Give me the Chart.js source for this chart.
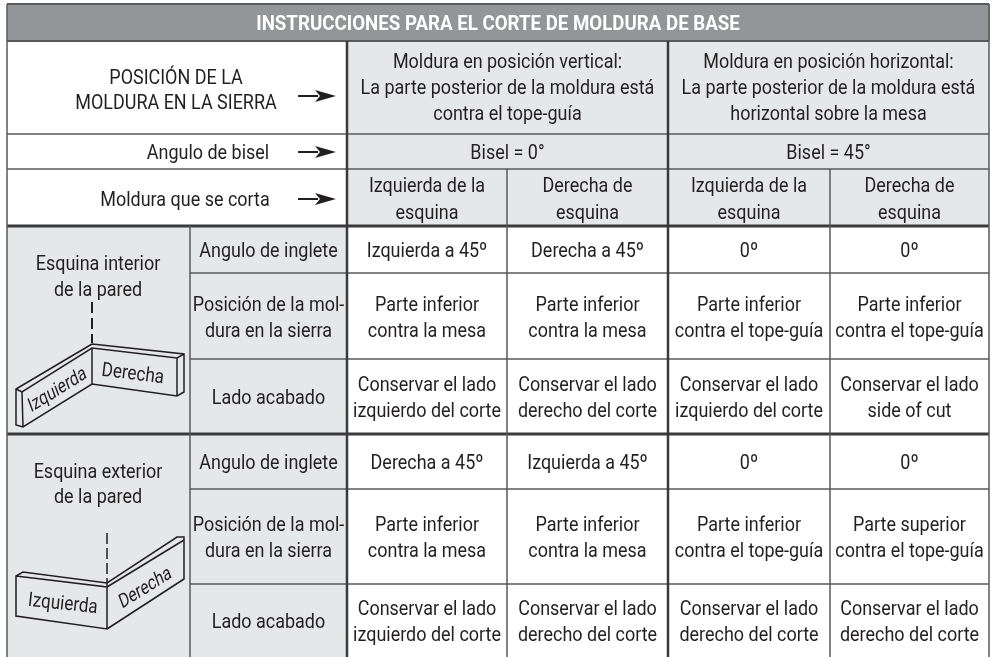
<!DOCTYPE html>
<html>
<head>
<meta charset="utf-8">
<style>
  html, body { margin: 0; padding: 0; background: #fff; }
  canvas { display: block; }
</style>
<script src="https://cdn.jsdelivr.net/npm/chart.js@4/dist/chart.umd.min.js"></script>
</head>
<body>
<canvas id="myChart" width="991" height="657"></canvas>
<script>
const tableTitle = "INSTRUCCIONES PARA EL CORTE DE MOLDURA DE BASE";
const positionLabel = ["POSICIÓN DE LA", "MOLDURA EN LA SIERRA"];
const bevelLabel = "Angulo de bisel";
const cutLabel = "Moldura que se corta";
const positionHeads = [
  ["Moldura en posición vertical:", "La parte posterior de la moldura está", "contra el tope-guía"],
  ["Moldura en posición horizontal:", "La parte posterior de la moldura está", "horizontal sobre la mesa"],
];
const bevelHeads = ["Bisel = 0°", "Bisel = 45°"];
const cutHeads = [
  ["Izquierda de la", "esquina"],
  ["Derecha de", "esquina"],
  ["Izquierda de la", "esquina"],
  ["Derecha de", "esquina"],
];
const cornerLabels = [
  ["Esquina interior", "de la pared"],
  ["Esquina exterior", "de la pared"],
];
const rowLabels = [
  ["Angulo de inglete"],
  ["Posición de la mol-", "dura en la sierra"],
  ["Lado acabado"],
];
const insideValues = [
  [["Izquierda a 45º"], ["Derecha a 45º"], ["0º"], ["0º"]],
  [["Parte inferior", "contra la mesa"], ["Parte inferior", "contra la mesa"], ["Parte inferior", "contra el tope-guía"], ["Parte inferior", "contra el tope-guía"]],
  [["Conservar el lado", "izquierdo del corte"], ["Conservar el lado", "derecho del corte"], ["Conservar el lado", "izquierdo del corte"], ["Conservar el lado", "side of cut"]],
];
const outsideValues = [
  [["Derecha a 45º"], ["Izquierda a 45º"], ["0º"], ["0º"]],
  [["Parte inferior", "contra la mesa"], ["Parte inferior", "contra la mesa"], ["Parte inferior", "contra el tope-guía"], ["Parte superior", "contra el tope-guía"]],
  [["Conservar el lado", "izquierdo del corte"], ["Conservar el lado", "derecho del corte"], ["Conservar el lado", "derecho del corte"], ["Conservar el lado", "derecho del corte"]],
];

// grid of the table, in axis units
const colEdges = [7, 190, 347, 507, 668, 830, 989];
const rowEdges = [4, 41, 134, 169, 226, 273, 359, 434, 489, 584, 657];

const HEAD_GREY = "#939598";
const CELL_GREY = "#e6e7e8";
const RULE = "#58595b";
const DARK = "#3a3a3c";
const INK = "#231f20";

let marks = [];

const addFill = (x0, x1, y0, y1, color) => {
  marks.push({
    data: [{ x: x0, y: y0 }, { x: x1, y: y0 }, { x: x1, y: y1 }, { x: x0, y: y1 }, { x: x0, y: y0 }],
    fill: "shape",
    backgroundColor: color,
    borderWidth: 0,
  });
};

const addLine = (points, color, width, dash) => {
  marks.push({
    data: points.map((p) => ({ x: p[0], y: p[1] })),
    fill: false,
    borderColor: color,
    borderWidth: width,
    borderDash: dash || [],
    borderCapStyle: "butt",
    borderJoinStyle: "miter",
  });
};

const addArrow = (y) => {
  addLine([[298, y], [318, y]], INK, 2);
  marks.push({
    data: [[336, y], [315, y - 6], [320, y], [315, y + 6], [336, y]].map((p) => ({ x: p[0], y: p[1] })),
    fill: "shape",
    backgroundColor: INK,
    borderWidth: 0,
  });
};

// cell backgrounds
addFill(colEdges[0], colEdges[6] + 1, rowEdges[0], rowEdges[1], HEAD_GREY);
addFill(colEdges[2], colEdges[6], rowEdges[1], rowEdges[4], CELL_GREY);
addFill(colEdges[0], colEdges[2], rowEdges[4], rowEdges[10], CELL_GREY);

// horizontal rules
addLine([[colEdges[0], rowEdges[0]], [colEdges[6], rowEdges[0]]], RULE, 2);
addLine([[colEdges[0], rowEdges[1]], [colEdges[6], rowEdges[1]]], RULE, 2);
addLine([[colEdges[0], rowEdges[2]], [colEdges[6], rowEdges[2]]], RULE, 1.5);
addLine([[colEdges[0], rowEdges[3]], [colEdges[6], rowEdges[3]]], RULE, 1.5);
addLine([[colEdges[0], rowEdges[4]], [colEdges[6], rowEdges[4]]], DARK, 3);
addLine([[colEdges[1], rowEdges[5]], [colEdges[6], rowEdges[5]]], RULE, 1.5);
addLine([[colEdges[1], rowEdges[6]], [colEdges[6], rowEdges[6]]], RULE, 1.5);
addLine([[colEdges[0], rowEdges[7]], [colEdges[6], rowEdges[7]]], DARK, 3);
addLine([[colEdges[1], rowEdges[8]], [colEdges[6], rowEdges[8]]], RULE, 1.5);
addLine([[colEdges[1], rowEdges[9]], [colEdges[6], rowEdges[9]]], RULE, 1.5);

// vertical rules
addLine([[colEdges[0], rowEdges[0]], [colEdges[0], rowEdges[10]]], RULE, 1.5);
addLine([[colEdges[6], rowEdges[0]], [colEdges[6], rowEdges[10]]], RULE, 1.5);
addLine([[colEdges[1], rowEdges[4]], [colEdges[1], rowEdges[10]]], RULE, 1.5);
addLine([[colEdges[2], rowEdges[1]], [colEdges[2], rowEdges[10]]], DARK, 2.5);
addLine([[colEdges[3], rowEdges[3]], [colEdges[3], rowEdges[10]]], RULE, 1.5);
addLine([[colEdges[4], rowEdges[1]], [colEdges[4], rowEdges[10]]], DARK, 2.5);
addLine([[colEdges[5], rowEdges[3]], [colEdges[5], rowEdges[10]]], RULE, 1.5);

addArrow(96);
addArrow(152);
addArrow(199);

// inside corner sketch
addLine([[92, 302], [92, 343]], INK, 2, [11, 5]);
addLine([[92, 348], [92, 384]], INK, 1.5);
addLine([[92, 344], [16, 389], [16, 425], [23, 427], [92, 384], [177, 396], [184, 392], [184, 354], [92, 344]], INK, 1.5);
addLine([[16, 389], [22, 392], [92, 348], [177, 358], [184, 354]], INK, 1.5);
addLine([[22, 392], [23, 427]], INK, 1.5);
addLine([[177, 358], [177, 396]], INK, 1.5);

// outside corner sketch
addLine([[107, 533], [107, 583]], INK, 1.5, [11, 4]);
addLine([[16, 576], [107, 587], [107, 629], [16, 616], [16, 576], [23, 572], [107, 583], [177, 537], [184, 537], [184, 579], [107, 629]], INK, 1.5);
addLine([[107, 587], [184, 540]], INK, 1.5);
addLine([[107, 583], [107, 587]], INK, 1.5);

const FONT = "Roboto";
const X_SQUEEZE = 0.855;

const putText = (chart, text, xVal, yVal, opts) => {
  const o = opts || {};
  const c = chart.ctx;
  const x = chart.scales.x.getPixelForValue(xVal);
  const y = chart.scales.y.getPixelForValue(yVal);
  c.save();
  c.translate(x, y);
  if (o.rotate) c.rotate((o.rotate * Math.PI) / 180);
  if (o.skew) c.transform(1, 0, o.skew, 1, 0, 0);
  c.scale(o.squeeze || X_SQUEEZE, 1);
  c.font = `${o.bold ? "700 " : ""}${o.size || 21}px ${FONT}`;
  c.fillStyle = o.color || INK;
  c.textAlign = "center";
  c.textBaseline = "middle";
  c.fillText(text, 0, 1.5);
  c.restore();
};

const putLines = (chart, lines, xVal, yVal, gap, opts) => {
  const top = yVal - ((lines.length - 1) * gap) / 2;
  lines.forEach((line, i) => putText(chart, line, xVal, top + i * gap, opts));
};

const colMid = (i) => (colEdges[i] + colEdges[i + 1]) / 2;
const rowMid = (i) => (rowEdges[i] + rowEdges[i + 1]) / 2 + 1;

const tableText = {
  id: "tableText",
  afterDatasetsDraw(chart) {
    putText(chart, tableTitle, 498, 23, { bold: true, color: "#fff", squeeze: 0.89 });

    putLines(chart, positionLabel, 176, 89.5, 25);
    putText(chart, bevelLabel, 208, 152);
    putText(chart, cutLabel, 185, 199);

    positionHeads.forEach((lines, i) => {
      putLines(chart, lines, (colEdges[2 + i * 2] + colEdges[4 + i * 2]) / 2, 87.5, 26);
      putText(chart, bevelHeads[i], (colEdges[2 + i * 2] + colEdges[4 + i * 2]) / 2, 152);
    });
    cutHeads.forEach((lines, i) => putLines(chart, lines, colMid(2 + i), 199, 27));

    putLines(chart, cornerLabels[0], 98, 276, 26);
    putLines(chart, cornerLabels[1], 98, 484, 25);

    [insideValues, outsideValues].forEach((block, b) => {
      block.forEach((cells, r) => {
        const y = rowMid(4 + b * 3 + r);
        putLines(chart, rowLabels[r], colMid(1), y, 26);
        cells.forEach((lines, i) => putLines(chart, lines, colMid(2 + i), y, 26));
      });
    });

    putText(chart, "Izquierda", 57, 389, { rotate: -32, skew: -0.2, size: 19 });
    putText(chart, "Derecha", 133, 373, { rotate: 7, size: 20 });
    putText(chart, "Izquierda", 63, 603, { rotate: 6, size: 20 });
    putText(chart, "Derecha", 145, 587, { rotate: -32, skew: -0.2, size: 19 });
  },
};

const baseLine = {
  pointRadius: 0,
  pointHoverRadius: 0,
  tension: 0,
  clip: false,
};

const ctx = document.getElementById("myChart").getContext("2d");

// chart.js paints the first dataset last, so flip the list
const myChart = new Chart(ctx, {
  type: "line",
  data: { datasets: marks.map((m) => ({ ...baseLine, ...m })).reverse() },
  plugins: [tableText],
  options: {
    responsive: false,
    animation: false,
    events: [],
    layout: { padding: 0 },
    plugins: { legend: { display: false }, tooltip: { enabled: false } },
    scales: {
      x: { type: "linear", min: 0, max: 991, display: false },
      y: { type: "linear", min: 0, max: 657, reverse: true, display: false },
    },
  },
});
</script>
</body>
</html>
